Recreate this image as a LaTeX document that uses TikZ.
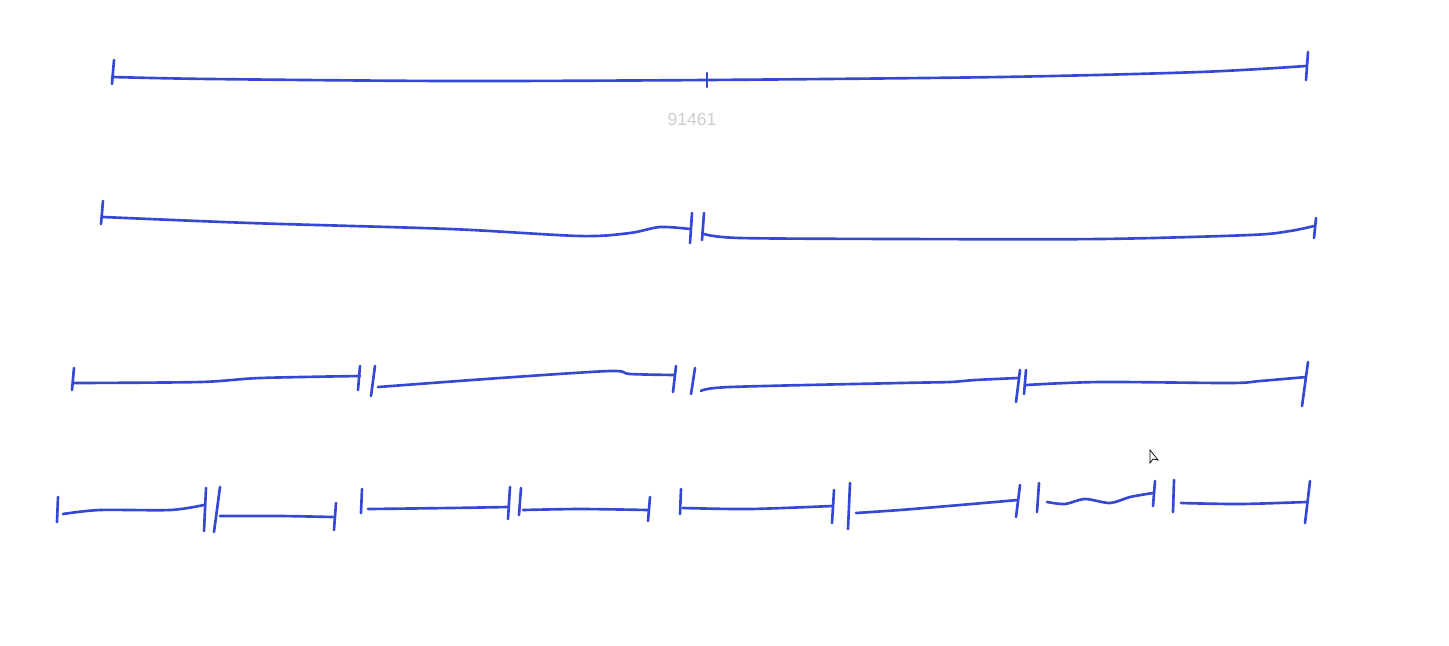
\documentclass[tikz,border=0pt]{standalone}
\usepackage{fontspec}
\setmainfont{Liberation Sans}
\definecolor{toll}{RGB}{52,72,212}
\definecolor{halvany}{RGB}{205,205,205}
\tikzset{
  vonal/.style={toll,line width=0.75pt,line cap=round},
  vegjel/.style={toll,line width=0.75pt,line cap=round},
  felirat/.style={text=halvany,font=\fontsize{5}{6}\selectfont},
}

\begin{document}
\begin{tikzpicture}[x=0.01cm,y=-0.01cm]
  \useasboundingbox (0,0) rectangle (1449,645);
  % 1. sor
  \draw[vonal] plot[smooth] coordinates {(112,77) (210,79) (450,81) (707,80) (1000,77) (1200,72) (1306,66)};
  \draw[vegjel] (114,60) -- (112,84);
  \draw[vegjel] (707,73) -- (707,87);
  \draw[vegjel] (1308,52) -- (1306,80);
  \node[felirat] (hossz) at (692,119) {91461};
  % 2. sor
  \draw[vonal] plot[smooth] coordinates {(103,217) (250,223) (450,229) (580,236) (630,233) (660,227) (690,229)};
  \draw[vegjel] (103,201) -- (101,224);
  \draw[vegjel] (692,213) -- (690,243);
  \draw[vegjel] (704,213) -- (702,240);
  \draw[vonal] plot[smooth] coordinates {(704,234) (740,238) (900,239) (1100,239) (1250,235) (1290,231) (1314,226)};
  \draw[vegjel] (1316,218) -- (1314,238);
  % 3. sor
  \draw[vegjel] (74,368) -- (72,390);
  \draw[vonal] plot[smooth] coordinates {(74,383) (200,382) (260,378) (360,376)};
  \draw[vegjel] (360,366) -- (358,390);
  \draw[vegjel] (375,366) -- (371,396);
  \draw[vonal] plot[smooth] coordinates {(378,387) (500,378) (610,371) (630,374) (674,375)};
  \draw[vegjel] (676,366) -- (673,392);
  \draw[vegjel] (695,368) -- (691,394);
  \draw[vonal] plot[smooth] coordinates {(701,391) (730,387) (900,383) (950,382) (975,380) (1018,378)};
  \draw[vegjel] (1020,370) -- (1016,402);
  \draw[vegjel] (1026,370) -- (1024,394);
  \draw[vonal] plot[smooth] coordinates {(1026,385) (1100,382) (1230,383) (1260,381) (1306,377)};
  \draw[vegjel] (1308,362) -- (1302,406);
  % 4. sor
  \draw[vegjel] (58,497) -- (57,522);
  \draw[vonal] plot[smooth] coordinates {(63,514) (100,510) (170,510) (204,505)};
  \draw[vegjel] (206,488) -- (204,531);
  \draw[vegjel] (220,487) -- (214,532);
  \draw[vonal] plot[smooth] coordinates {(220,516) (280,516) (333,517)};
  \draw[vegjel] (336,503) -- (334,530);
  \draw[vegjel] (362,489) -- (361,513);
  \draw[vonal] plot[smooth] coordinates {(368,509) (450,508) (508,507)};
  \draw[vegjel] (510,487) -- (508,519);
  \draw[vegjel] (521,488) -- (519,515);
  \draw[vonal] plot[smooth] coordinates {(523,510) (580,509) (648,510)};
  \draw[vegjel] (650,497) -- (648,521);
  \draw[vegjel] (681,489) -- (680,514);
  \draw[vonal] plot[smooth] coordinates {(683,508) (750,509) (832,506)};
  \draw[vegjel] (834,490) -- (832,523);
  \draw[vegjel] (850,483) -- (848,529);
  \draw[vonal] plot[smooth] coordinates {(856,513) (900,510) (960,505) (1018,500)};
  \draw[vegjel] (1020,485) -- (1016,517);
  \draw[vegjel] (1039,483) -- (1037,512);
  \draw[vonal] plot[smooth] coordinates {(1047,502) (1065,504) (1085,499) (1110,503) (1130,497) (1153,493)};
  \draw[vegjel] (1155,481) -- (1153,506);
  \draw[vegjel] (1174,480) -- (1173,512);
  \draw[vonal] plot[smooth] coordinates {(1181,503) (1240,504) (1306,502)};
  \draw[vegjel] (1310,481) -- (1305,523);
  % kurzor
  \draw[black,line width=0.2pt,fill=white] (1150,450) -- (1150,463) -- (1153,459) -- (1158,460) -- cycle;
\end{tikzpicture}
\end{document}
